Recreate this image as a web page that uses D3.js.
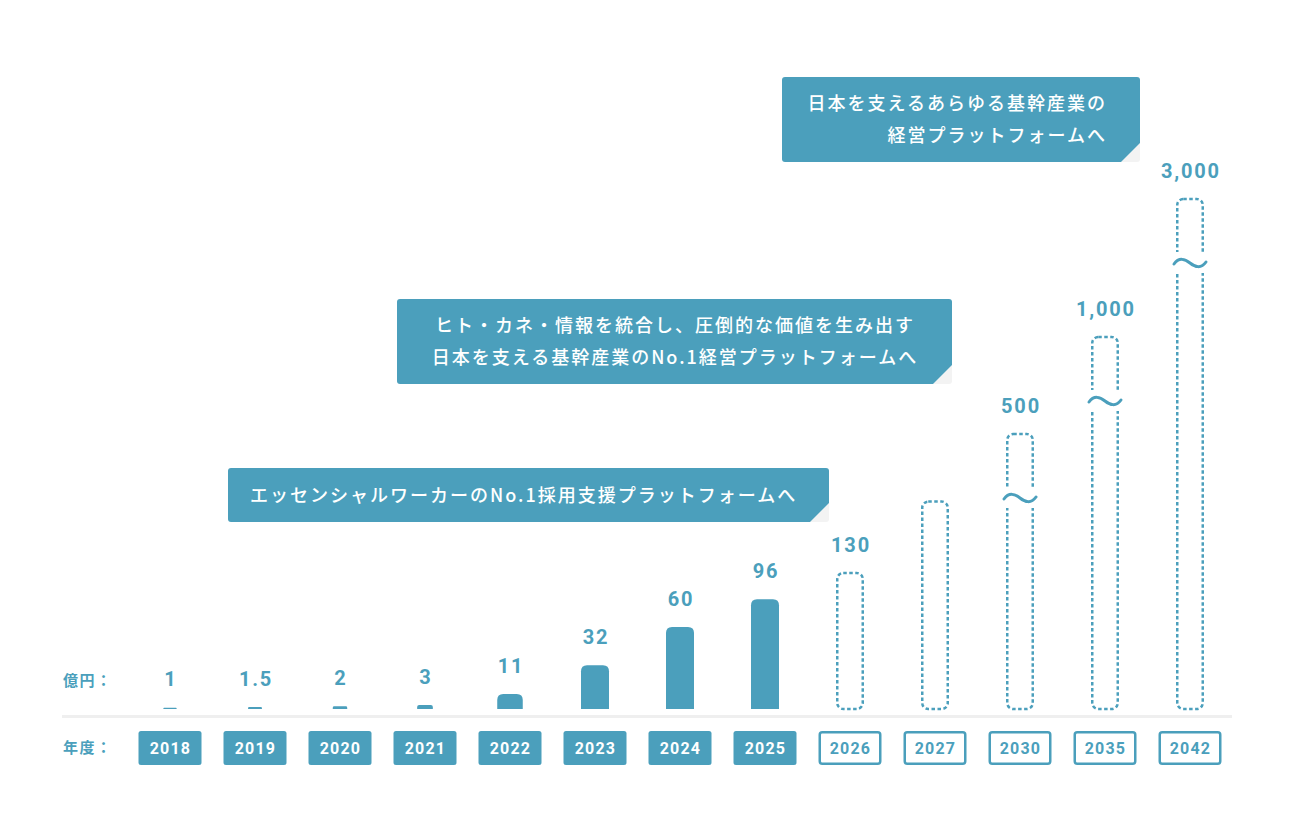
<!DOCTYPE html>
<html lang="ja">
<head>
<meta charset="utf-8">
<script src="https://cdn.jsdelivr.net/npm/d3@7/dist/d3.min.js"></script>
<style>
  html, body { margin: 0; padding: 0; background: #fff; }
  svg { display: block; }
</style>
</head>
<body>
<svg id="chart" width="1290" height="840"></svg>
<script>
// ── データ ──
const years = ['2018', '2019', '2020', '2021', '2022', '2023', '2024', '2025', '2026', '2027', '2030', '2035', '2042'];
const values = [1, 1.5, 2, 3, 11, 32, 60, 96, 130, 320, 500, 1000, 3000];   // 億円 (2027 は推定・非表示)
const valueLabels = ['1', '1.5', '2', '3', '11', '32', '60', '96', '130', '', '500', '1,000', '3,000'];
const isForecast = [false, false, false, false, false, false, false, false, true, true, true, true, true];
const hasBreak = [false, false, false, false, false, false, false, false, false, false, true, true, true];

const callouts = [
  { lines: ['エッセンシャルワーカーのNo.1採用支援プラットフォームへ'], box: [228, 468, 829, 522], anchor: 'start', tx: 250 },
  { lines: ['ヒト・カネ・情報を統合し、圧倒的な価値を生み出す', '日本を支える基幹産業のNo.1経営プラットフォームへ'], box: [397, 299, 952, 384], anchor: 'middle', tx: 675 },
  { lines: ['日本を支えるあらゆる基幹産業の', '経営プラットフォームへ'], box: [782, 77, 1140, 162], anchor: 'end', tx: 1107 }
];

// ── 色 ──
const C = {
  main: '#4b9fbc',
  base: '#efefef',
  fold: '#f3f3f3',
  white: '#ffffff'
};
const NUM_FONT = "Roboto, 'Noto Sans CJK JP', sans-serif";
const JP_FONT = "'Noto Sans CJK JP', 'Noto Sans', sans-serif";

const svg = d3.select('#chart');

// ── スケール ──
const x = d3.scaleBand().domain(years).range([127.5, 1232.5]);
// 省略記号付きの区分線形スケール
const y = d3.scaleLinear()
  .domain([0, 60, 130, 500, 1000, 3000])
  .range([709, 627, 573, 434, 337, 199]);

const barW = 28;
const cx = d => x(d) + x.bandwidth() / 2;

// ── ベースライン ──
svg.append('rect')
  .attr('x', 62).attr('y', 715)
  .attr('width', 1170).attr('height', 3)
  .attr('fill', C.base);

// ── 左ラベル ──
[['億円：', 686], ['年度：', 753]].forEach(([t, yy]) => {
  svg.append('text')
    .attr('x', 63).attr('y', yy)
    .attr('fill', C.main)
    .style('font-family', JP_FONT)
    .style('font-size', '15px')
    .style('font-weight', 700)
    .style('letter-spacing', '1.5px')
    .text(t);
});

// 上部だけ角丸のバー
function barPath(x0, y0, w, h, r) {
  r = Math.min(r, h / 2, w / 2);
  return `M${x0},${y0 + h} L${x0},${y0 + r} Q${x0},${y0} ${x0 + r},${y0} L${x0 + w - r},${y0} Q${x0 + w},${y0} ${x0 + w},${y0 + r} L${x0 + w},${y0 + h} Z`;
}

const data = years.map((yr, i) => ({
  year: yr, value: values[i], label: valueLabels[i], forecast: isForecast[i], brk: hasBreak[i]
}));

// ── 実績バー ──
data.filter(d => !d.forecast).forEach(d => {
  const top = y(d.value);
  const h = y(0) - top;
  const w = Math.min(barW, 12 + h * 0.9);
  svg.append('path')
    .attr('d', barPath(cx(d.year) - w / 2, top, w, h, 6))
    .attr('fill', C.main);
});

// ── 予測バー（点線） ──
data.filter(d => d.forecast).forEach(d => {
  const top = y(d.value);
  const x0 = cx(d.year) - barW / 2 + 1.25;
  const g = svg.append('g');
  g.append('rect')
    .attr('x', x0).attr('y', top)
    .attr('width', barW - 2.5).attr('height', y(0) - top)
    .attr('rx', 6)
    .attr('fill', 'none')
    .attr('stroke', C.main)
    .attr('stroke-width', 2.5)
    .attr('stroke-dasharray', '3.5 2.5');
  if (d.brk) {
    const ty = top + 64;
    g.append('rect')
      .attr('x', cx(d.year) - 20).attr('y', ty - 11)
      .attr('width', 40).attr('height', 21)
      .attr('fill', C.white);
    const c = cx(d.year);
    g.append('path')
      .attr('d', `M${c - 16},${ty + 1} C${c - 11},${ty - 6} ${c - 5},${ty - 4} ${c},${ty} S${c + 11},${ty + 6} ${c + 16},${ty - 1}`)
      .attr('fill', 'none')
      .attr('stroke', C.main)
      .attr('stroke-width', 3)
      .attr('stroke-linecap', 'round');
  }
});

// ── 値ラベル ──
svg.selectAll('.val')
  .data(data.filter(d => d.label))
  .enter()
  .append('text')
  .attr('class', 'val')
  .attr('x', d => cx(d.year) + 1)
  .attr('y', d => Math.min(y(d.value), 707) - 21)
  .attr('text-anchor', 'middle')
  .attr('fill', C.main)
  .style('font-family', NUM_FONT)
  .style('font-size', '20px')
  .style('font-weight', 700)
  .style('letter-spacing', '1.8px')
  .text(d => d.label);

// ── 年度ボックス ──
const yearG = svg.selectAll('.yr')
  .data(data)
  .enter()
  .append('g')
  .attr('class', 'yr');

yearG.append('rect')
  .attr('x', d => cx(d.year) - 31.5 + (d.forecast ? 1.25 : 0))
  .attr('y', d => 731 + (d.forecast ? 1.25 : 0))
  .attr('width', d => 63 - (d.forecast ? 2.5 : 0))
  .attr('height', d => 34 - (d.forecast ? 2.5 : 0))
  .attr('rx', 2.5)
  .attr('fill', d => d.forecast ? C.white : C.main)
  .attr('stroke', d => d.forecast ? C.main : 'none')
  .attr('stroke-width', 2.5);

yearG.append('text')
  .attr('x', d => cx(d.year) + 0.5)
  .attr('y', 754)
  .attr('text-anchor', 'middle')
  .attr('fill', d => d.forecast ? C.main : C.white)
  .style('font-family', NUM_FONT)
  .style('font-size', '16px')
  .style('font-weight', 700)
  .style('letter-spacing', '1.2px')
  .text(d => d.year);

// ── 吹き出し ──
callouts.forEach(co => {
  const [x0, y0, x1, y1] = co.box;
  const cut = 19, r = 3;
  const g = svg.append('g');
  // 折り返し部分
  g.append('path')
    .attr('d', `M${x1 - cut},${y1} L${x1},${y1 - cut} L${x1},${y1 - r} Q${x1},${y1} ${x1 - r},${y1} Z`)
    .attr('fill', C.fold);
  g.append('path')
    .attr('d', `M${x0 + r},${y0} L${x1 - r},${y0} Q${x1},${y0} ${x1},${y0 + r} L${x1},${y1 - cut} L${x1 - cut},${y1} L${x0 + r},${y1} Q${x0},${y1} ${x0},${y1 - r} L${x0},${y0 + r} Q${x0},${y0} ${x0 + r},${y0} Z`)
    .attr('fill', C.main);
  const n = co.lines.length;
  const midY = (y0 + y1) / 2;
  co.lines.forEach((ln, i) => {
    g.append('text')
      .attr('x', co.tx)
      .attr('y', midY + (i - (n - 1) / 2) * 32 + 6.5)
      .attr('text-anchor', co.anchor)
      .attr('fill', C.white)
      .style('font-family', JP_FONT)
      .style('font-size', '18px')
      .style('font-weight', 500)
      .style('letter-spacing', '2px')
      .text(ln);
  });
});
</script>
</body>
</html>
